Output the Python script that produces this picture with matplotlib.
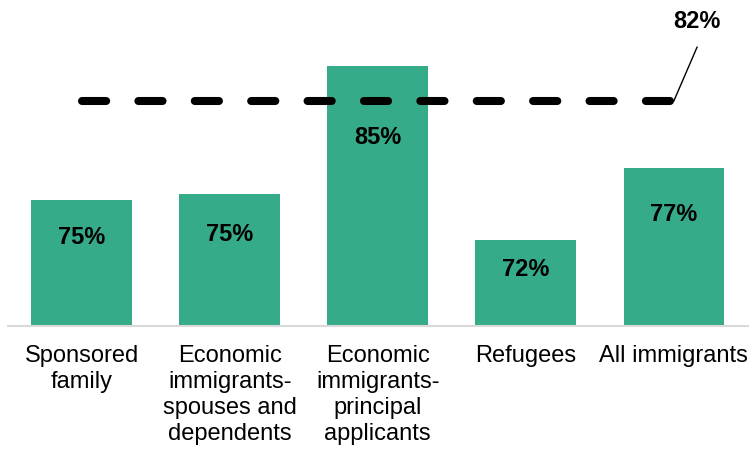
import matplotlib.pyplot as plt

plt.rcParams["font.family"] = ["Liberation Sans", "DejaVu Sans"]

categories = [
    "Sponsored\nfamily",
    "Economic\nimmigrants-\nspouses and\ndependents",
    "Economic\nimmigrants-\nprincipal\napplicants",
    "Refugees",
    "All immigrants",
]
rates = [75.0, 75.4, 85.0, 72.0, 77.4]
benchmark = 82.4

# how far below each bar top its label sits (pixels)
label_drop = [38, 40, 72, 30, 47]

bar_color = "#35AB8A"

fig = plt.figure(figsize=(7.5, 4.51), dpi=100)
ax = fig.add_axes([0.01, 0.2772, 0.9873, 0.7228])

x = list(range(len(categories)))
bars = ax.bar(x, rates, width=0.68, color=bar_color, zorder=2)

for bar, v, drop in zip(bars, rates, label_drop):
    ax.annotate(
        f"{v:.0f}%",
        (bar.get_x() + bar.get_width() / 2, v),
        xytext=(0, -drop),
        textcoords="offset pixels",
        ha="center",
        va="center",
        fontsize=17,
        fontweight="bold",
        zorder=4,
    )

# benchmark line across the groups with a callout label
ax.plot(
    [0, 4], [benchmark, benchmark],
    color="black", lw=5.8, dashes=(3, 4),
    dash_capstyle="round", zorder=3,
)
ax.plot([4.0, 4.156], [benchmark, 86.4], color="black", lw=1, clip_on=False, zorder=3)
ax.text(4.156, 88.3, f"{benchmark:.0f}%", ha="center", va="center",
        fontsize=17, fontweight="bold")

ax.set_xlim(-0.5, 4.5)
ax.set_ylim(65.57, 89.93)
ax.set_xticks(x)
ax.set_xticklabels(categories, fontsize=17, linespacing=1.22)
ax.tick_params(axis="x", length=0, pad=14)
ax.set_yticks([])

for side in ["top", "right", "left"]:
    ax.spines[side].set_visible(False)
ax.spines["bottom"].set_color("#d9d9d9")
ax.spines["bottom"].set_linewidth(1.5)

fig.savefig("out.png", dpi=100)
